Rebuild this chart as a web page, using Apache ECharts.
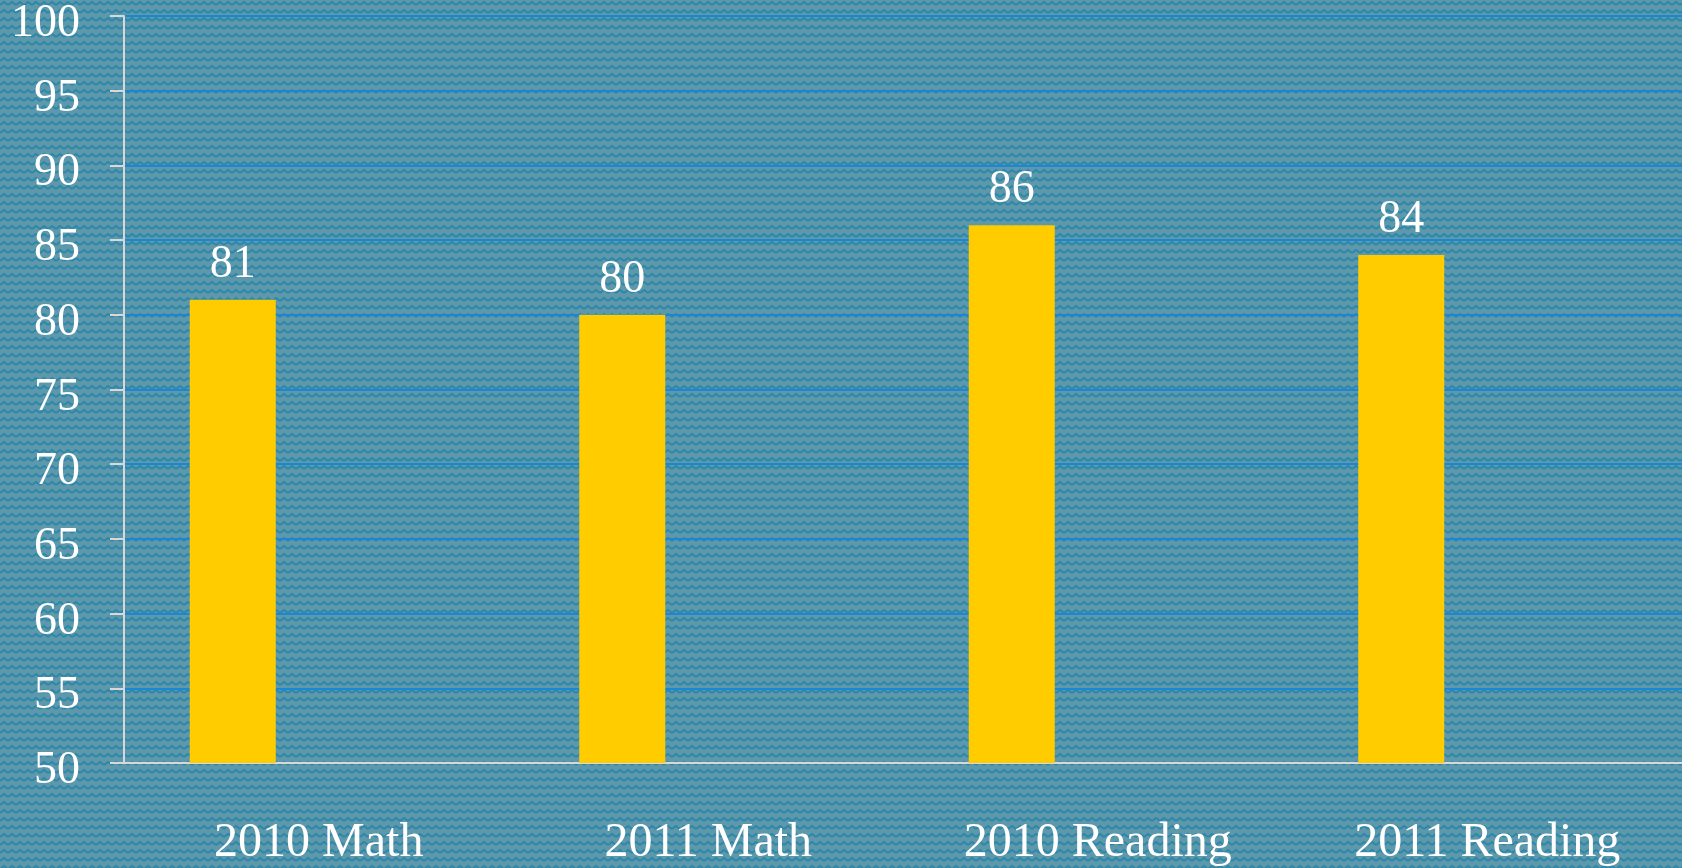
<!DOCTYPE html>
<html>
<head>
<meta charset="utf-8">
<script src="https://cdn.jsdelivr.net/npm/echarts@6/dist/echarts.min.js"></script>
<style>
  html, body { margin: 0; padding: 0; }
  #main { width: 1682px; height: 868px; }
</style>
</head>
<body>
<div id="main"></div>
<script>
const categories = ['2010 Math', '2011 Math', '2010 Reading', '2011 Reading'];
const scores = [81, 80, 86, 84];
const emptySlot = [null, null, null, null];
const yTicks = [50, 55, 60, 65, 70, 75, 80, 85, 90, 95, 100];

// zigzag background tile
function makePattern() {
  const c = document.createElement('canvas');
  c.width = 8; c.height = 8;
  const ctx = c.getContext('2d');
  ctx.fillStyle = '#5f98ab';
  ctx.fillRect(0, 0, 8, 8);
  ctx.strokeStyle = '#2a88aa';
  ctx.lineWidth = 2;
  ctx.beginPath();
  ctx.moveTo(0, 5);
  ctx.lineTo(4, 2);
  ctx.lineTo(8, 5);
  ctx.stroke();
  return c;
}

const font = '"Liberation Serif", "DejaVu Serif", serif';
const chart = echarts.init(document.getElementById('main'));
const option = {
  backgroundColor: { image: makePattern(), repeat: 'repeat' },
  animation: false,
  grid: { left: 124, right: 0, top: 16, bottom: 105, containLabel: false, outerBoundsMode: 'none' },
  xAxis: {
    type: 'category',
    data: categories,
    axisLine: { lineStyle: { color: '#d8d8d8', width: 2 } },
    axisTick: { length: 15, lineStyle: { color: '#d8d8d8', width: 2 } },
    axisLabel: { color: '#ffffff', fontFamily: font, fontSize: 48, margin: 56 }
  },
  yAxis: {
    type: 'value',
    min: 50,
    max: 100,
    interval: 5,
    axisLine: { show: true, lineStyle: { color: '#d8d8d8', width: 2 } },
    axisTick: { show: true, length: 14, lineStyle: { color: '#d8d8d8', width: 2 } },
    splitLine: { lineStyle: { color: '#1a86d8', width: 2 } },
    axisLabel: {
      color: '#ffffff', fontFamily: font, fontSize: 46, margin: 44,
      verticalAlign: 'top', lineHeight: 16,
      formatter: v => (yTicks.indexOf(v) >= 0 ? String(v) : '')
    }
  },
  series: [
    {
      type: 'bar',
      data: scores,
      barWidth: 86,
      barGap: '100%',
      itemStyle: { color: '#ffcc00' },
      label: {
        show: true, position: 'top', distance: 12,
        color: '#ffffff', fontFamily: font, fontSize: 46
      }
    },
    {
      type: 'bar',
      data: emptySlot,
      barWidth: 86,
      barGap: '100%'
    }
  ]
};
chart.setOption(option);
</script>
</body>
</html>
